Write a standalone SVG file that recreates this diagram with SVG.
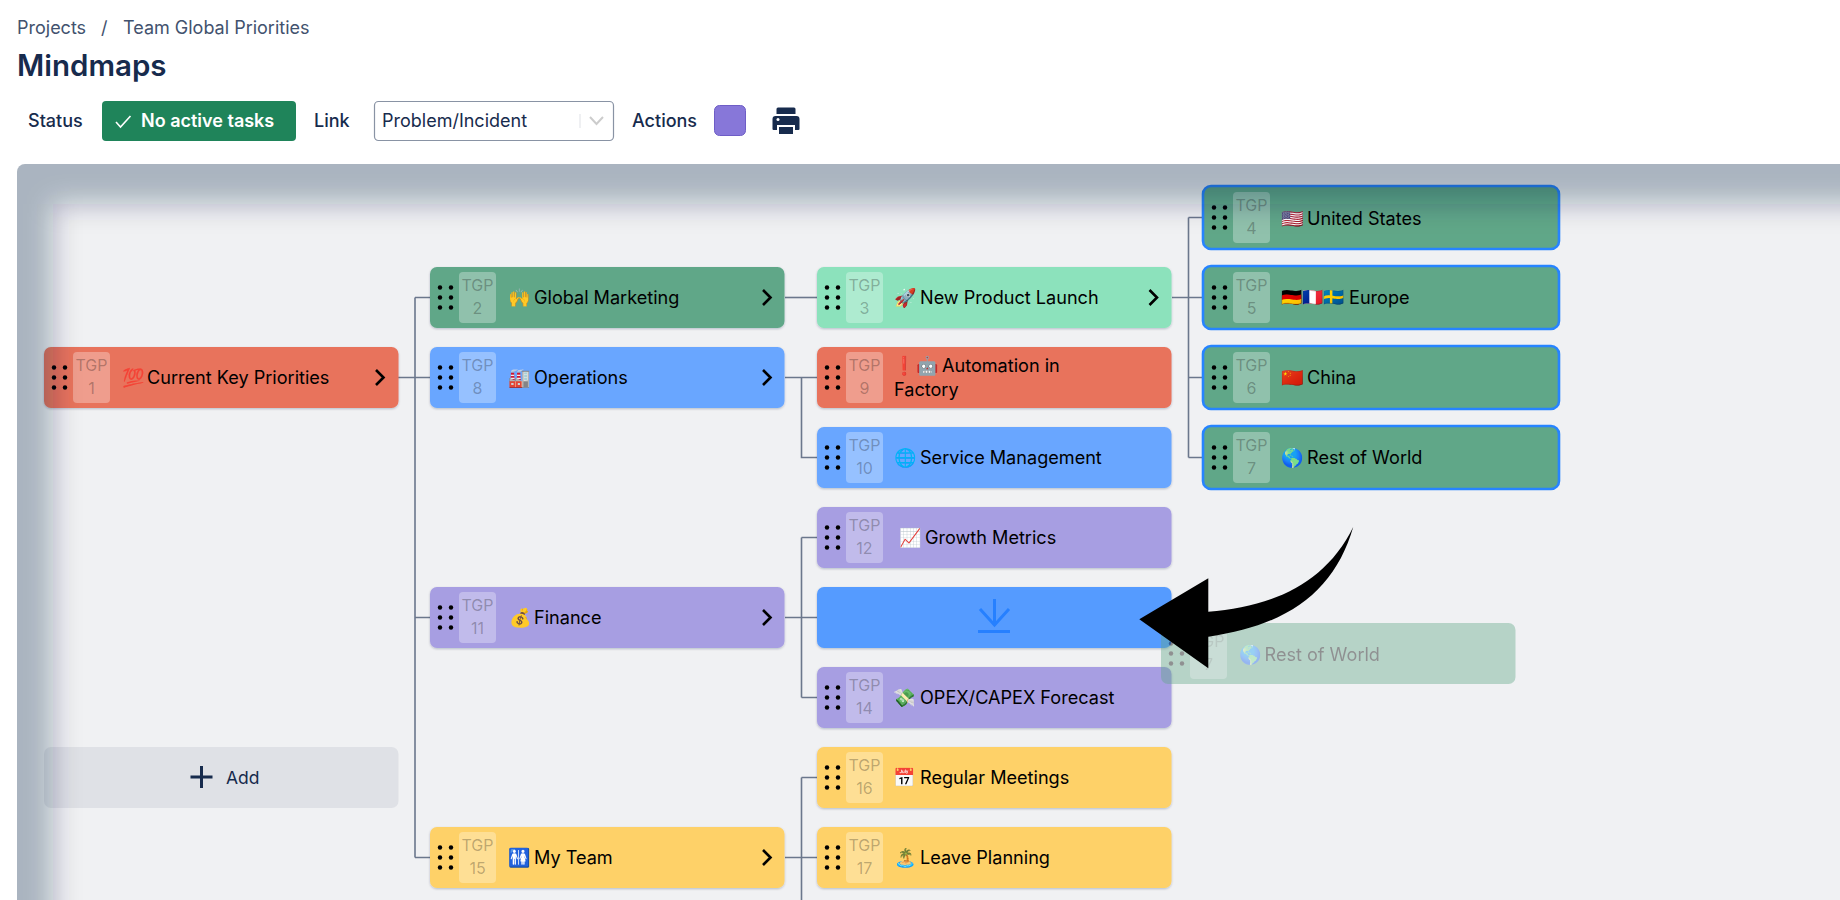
<svg xmlns="http://www.w3.org/2000/svg" xmlns:xlink="http://www.w3.org/1999/xlink" width="1840" height="900" viewBox="0 0 1840 900">
<style>
text{font-family:Inter,"Noto Sans","Noto Color Emoji",sans-serif}
.crumb{font-size:18px;fill:#42526e}
.tool{font-size:18px;font-weight:500;fill:#172b4d}
.lbl{font-size:18.100px;fill:#000;dominant-baseline:central}
.tgp{font-size:16px;fill:#000;fill-opacity:.27;text-anchor:middle;dominant-baseline:central}
.badge{fill:#fff;fill-opacity:.3}
.chev{fill:none;stroke:#000;stroke-width:2.6}
.n{filter:url(#sh)}
.red{fill:#e8735c}.grn{fill:#60a788}.lgr{fill:#8ce2bc}.blu{fill:#69a6ff}.pur{fill:#a79ee2}.yel{fill:#fed168}
.sel{fill:#60a788;stroke:#2684ff;stroke-width:2.6}
#connectors path{fill:none;stroke:#6b778c;stroke-width:1.600}
</style>
<defs>
<filter id="sh" x="-2%" y="-5%" width="104%" height="115%"><feDropShadow dx="0" dy="1" stdDeviation="1" flood-color="#091e42" flood-opacity=".25"/></filter>
<filter id="blur" x="-5%" y="-20%" width="110%" height="140%"><feGaussianBlur stdDeviation="14"/></filter>
<clipPath id="canvasClip"><path d="M25 164H1840V900H17V172a8 8 0 0 1 8-8z"/></clipPath>
<g id="grip"><circle cx="0" cy="-10" r="2.2"/><circle cx="11" cy="-10" r="2.2"/><circle cx="0" cy="0" r="2.2"/><circle cx="11" cy="0" r="2.2"/><circle cx="0" cy="10" r="2.2"/><circle cx="11" cy="10" r="2.2"/></g>
<rect id="nodeRect" width="354.5" height="61" rx="7"/>
<rect id="bdg" width="37" height="51" rx="4"/>
<path id="chevron" d="M-4-7.5 3.5 0-4 7.5"/>
</defs>

<rect id="canvas" x="17" y="164" width="1823" height="736" fill="#f0f1f3" clip-path="url(#canvasClip)"/>

<g id="header">
<text class="crumb" x="17" y="33.500">Projects</text>
<text class="crumb" x="101" y="33.500">/</text>
<text class="crumb" x="123" y="33.500">Team Global Priorities</text>
<text x="17" y="76" font-size="29.500" font-weight="600" fill="#172b4d">Mindmaps</text>
<text class="tool" x="28" y="127">Status</text>
<g id="status"><rect x="102" y="101" width="194" height="40" rx="4" fill="#1f845a"/>
<path d="M116 122l4.5 5 10-11" fill="none" stroke="#fff" stroke-width="1.6"/>
<text x="141" y="127" font-size="18" font-weight="600" fill="#fff">No active tasks</text></g>
<text class="tool" x="314" y="127">Link</text>
<g id="select"><rect x="374.5" y="101.5" width="239" height="39" rx="4" fill="#fff" stroke="#8993a4" stroke-width="1.2"/>
<text x="382" y="127" font-size="18" fill="#172b4d">Problem/Incident</text>
<path d="M580 114v14" stroke="#dfe1e6" stroke-width="1"/>
<path d="M590 117l6.500 7 6.500-7" fill="none" stroke="#ccc" stroke-width="2"/></g>
<text class="tool" x="632" y="127">Actions</text>
<rect id="swatch" x="714.500" y="105.500" width="31" height="30" rx="5" fill="#8777d9" stroke="#6e5dc6"/>
<path id="printer" fill="#172b4d" d="M778 107.500h16a1.500 1.500 0 0 1 1.500 1.500v5h-19v-5a1.500 1.500 0 0 1 1.500-1.500zM775.500 116h21a3 3 0 0 1 3 3v10a1 1 0 0 1-1 1h-3.500v-5h-18v5h-3.500a1 1 0 0 1-1-1v-10a3 3 0 0 1 3-3zM779 127h14v7h-14z"/>
<circle cx="778" cy="119.500" r="1.500" fill="#fff"/>
</g>

<g id="connectors">
<path d="M398 377.500H430M415 297.500V857.500M415 297.500H430M415 617.500H430M415 857.500H430"/>
<path d="M785 297.500H817"/>
<path d="M785 377.500H817M801.500 377.500V457.500H817"/>
<path d="M785 617.500H817M801.500 537.500V697.500M801.500 537.500H817M801.500 697.500H817"/>
<path d="M785 857.500H817M801.500 777.500V900M801.500 777.500H817"/>
<path d="M1172 297.500H1203M1188.500 217.500V457.500M1188.500 217.500H1203M1188.500 377.500H1203M1188.500 457.500H1203"/>
</g>

<g id="node-1" transform="translate(44 347)"><use xlink:href="#nodeRect" class="n red"/><use xlink:href="#grip" x="10" y="30.500"/><use xlink:href="#bdg" x="29" y="5" class="badge"/><text class="tgp" x="47.500" y="18">TGP</text><text class="tgp" x="47.500" y="41">1</text><text class="lbl" y="29.500"><tspan x="78">💯</tspan><tspan x="103">Current Key Priorities</tspan></text><use xlink:href="#chevron" x="336" y="30.500" class="chev"/></g>

<g id="node-2" transform="translate(430 267)"><use xlink:href="#nodeRect" class="n grn"/><use xlink:href="#grip" x="10" y="30.500"/><use xlink:href="#bdg" x="29" y="5" class="badge"/><text class="tgp" x="47.500" y="18">TGP</text><text class="tgp" x="47.500" y="41">2</text><text class="lbl" y="29.500"><tspan x="78">🙌</tspan><tspan x="104">Global Marketing</tspan></text><use xlink:href="#chevron" x="337" y="30.500" class="chev"/></g>

<g id="node-8" transform="translate(430 347)"><use xlink:href="#nodeRect" class="n blu"/><use xlink:href="#grip" x="10" y="30.500"/><use xlink:href="#bdg" x="29" y="5" class="badge"/><text class="tgp" x="47.500" y="18">TGP</text><text class="tgp" x="47.500" y="41">8</text><text class="lbl" y="29.500"><tspan x="78">🏭</tspan><tspan x="104">Operations</tspan></text><use xlink:href="#chevron" x="337" y="30.500" class="chev"/></g>

<g id="node-11" transform="translate(430 587)"><use xlink:href="#nodeRect" class="n pur"/><use xlink:href="#grip" x="10" y="30.500"/><use xlink:href="#bdg" x="29" y="5" class="badge"/><text class="tgp" x="47.500" y="18">TGP</text><text class="tgp" x="47.500" y="41">11</text><text class="lbl" y="29.500"><tspan x="79">💰</tspan><tspan x="104">Finance</tspan></text><use xlink:href="#chevron" x="337" y="30.500" class="chev"/></g>

<g id="node-15" transform="translate(430 827)"><use xlink:href="#nodeRect" class="n yel"/><use xlink:href="#grip" x="10" y="30.500"/><use xlink:href="#bdg" x="29" y="5" class="badge"/><text class="tgp" x="47.500" y="18">TGP</text><text class="tgp" x="47.500" y="41">15</text><text class="lbl" y="29.500"><tspan x="78">🚻</tspan><tspan x="104">My Team</tspan></text><use xlink:href="#chevron" x="337" y="30.500" class="chev"/></g>

<g id="node-3" transform="translate(817 267)"><use xlink:href="#nodeRect" class="n lgr"/><use xlink:href="#grip" x="10" y="30.500"/><use xlink:href="#bdg" x="29" y="5" class="badge"/><text class="tgp" x="47.500" y="18">TGP</text><text class="tgp" x="47.500" y="41">3</text><text class="lbl" y="29.500"><tspan x="77">🚀</tspan><tspan x="103">New Product Launch</tspan></text><use xlink:href="#chevron" x="336.500" y="30.500" class="chev"/></g>

<g id="node-9" transform="translate(817 347)"><use xlink:href="#nodeRect" class="n red"/><use xlink:href="#grip" x="10" y="30.500"/><use xlink:href="#bdg" x="29" y="5" class="badge"/><text class="tgp" x="47.500" y="18">TGP</text><text class="tgp" x="47.500" y="41">9</text><text class="lbl" y="18"><tspan x="76">❗</tspan><tspan x="99">🤖</tspan><tspan x="125">Automation in</tspan></text><text class="lbl" x="77" y="42">Factory</text></g>

<g id="node-10" transform="translate(817 427)"><use xlink:href="#nodeRect" class="n blu"/><use xlink:href="#grip" x="10" y="30.500"/><use xlink:href="#bdg" x="29" y="5" class="badge"/><text class="tgp" x="47.500" y="18">TGP</text><text class="tgp" x="47.500" y="41">10</text><text class="lbl" y="29.500"><tspan x="77">🌐</tspan><tspan x="103">Service Management</tspan></text></g>

<g id="node-12" transform="translate(817 507)"><use xlink:href="#nodeRect" class="n pur"/><use xlink:href="#grip" x="10" y="30.500"/><use xlink:href="#bdg" x="29" y="5" class="badge"/><text class="tgp" x="47.500" y="18">TGP</text><text class="tgp" x="47.500" y="41">12</text><text class="lbl" y="29.500"><tspan x="82">📈</tspan><tspan x="108">Growth Metrics</tspan></text></g>

<g id="dropzone" transform="translate(817 587)"><use xlink:href="#nodeRect" class="n" fill="#559bff"/><path d="M177.500 12V38M163 22L177.500 38L192 22M161 44.500H193" fill="none" stroke="#2680ff" stroke-width="3"/></g>

<g id="node-14" transform="translate(817 667)"><use xlink:href="#nodeRect" class="n pur"/><use xlink:href="#grip" x="10" y="30.500"/><use xlink:href="#bdg" x="29" y="5" class="badge"/><text class="tgp" x="47.500" y="18">TGP</text><text class="tgp" x="47.500" y="41">14</text><text class="lbl" y="29.500"><tspan x="76">💸</tspan><tspan x="103">OPEX/CAPEX Forecast</tspan></text></g>

<g id="node-16" transform="translate(817 747)"><use xlink:href="#nodeRect" class="n yel"/><use xlink:href="#grip" x="10" y="30.500"/><use xlink:href="#bdg" x="29" y="5" class="badge"/><text class="tgp" x="47.500" y="18">TGP</text><text class="tgp" x="47.500" y="41">16</text><text class="lbl" y="29.500"><tspan x="76">📅</tspan><tspan x="103">Regular Meetings</tspan></text></g>

<g id="node-17" transform="translate(817 827)"><use xlink:href="#nodeRect" class="n yel"/><use xlink:href="#grip" x="10" y="30.500"/><use xlink:href="#bdg" x="29" y="5" class="badge"/><text class="tgp" x="47.500" y="18">TGP</text><text class="tgp" x="47.500" y="41">17</text><text class="lbl" y="29.500"><tspan x="77">🏝</tspan><tspan x="103">Leave Planning</tspan></text></g>

<g id="node-4" transform="translate(1204 187)"><rect x="-1" y="-1" width="356" height="63" rx="8" class="sel"/><use xlink:href="#grip" x="10" y="30.500"/><use xlink:href="#bdg" x="29" y="5" class="badge"/><text class="tgp" x="47.500" y="18">TGP</text><text class="tgp" x="47.500" y="41">4</text><text class="lbl" y="30.500"><tspan x="77">🇺🇸</tspan><tspan x="103">United States</tspan></text></g>

<g id="node-5" transform="translate(1204 267)"><rect x="-1" y="-1" width="356" height="63" rx="8" class="sel"/><use xlink:href="#grip" x="10" y="30.500"/><use xlink:href="#bdg" x="29" y="5" class="badge"/><text class="tgp" x="47.500" y="18">TGP</text><text class="tgp" x="47.500" y="41">5</text><text class="lbl" y="29.500"><tspan x="77" font-size="17">🇩🇪🇫🇷🇸🇪</tspan><tspan x="145">Europe</tspan></text></g>

<g id="node-6" transform="translate(1204 347)"><rect x="-1" y="-1" width="356" height="63" rx="8" class="sel"/><use xlink:href="#grip" x="10" y="30.500"/><use xlink:href="#bdg" x="29" y="5" class="badge"/><text class="tgp" x="47.500" y="18">TGP</text><text class="tgp" x="47.500" y="41">6</text><text class="lbl" y="29.500"><tspan x="77">🇨🇳</tspan><tspan x="103">China</tspan></text></g>

<g id="node-7" transform="translate(1204 427)"><rect x="-1" y="-1" width="356" height="63" rx="8" class="sel"/><use xlink:href="#grip" x="10" y="30.500"/><use xlink:href="#bdg" x="29" y="5" class="badge"/><text class="tgp" x="47.500" y="18">TGP</text><text class="tgp" x="47.500" y="41">7</text><text class="lbl" y="29.500"><tspan x="77">🌎</tspan><tspan x="103">Rest of World</tspan></text></g>

<g id="node-add" transform="translate(44 747)"><use xlink:href="#nodeRect" fill="#dfe1e6"/><path d="M146.500 30H168.500M157.500 19V41" fill="none" stroke="#172b4d" stroke-width="3"/><text x="182" y="37" font-size="17.500" fill="#172b4d">Add</text></g>

<g id="inset-shadow" clip-path="url(#canvasClip)"><path filter="url(#blur)" fill="#091e42" fill-opacity=".29" fill-rule="evenodd" d="M-60 90H1900V960H-60zM53 204V960H1900V204z"/></g>

<g id="node-ghost" transform="translate(1161 623)" opacity=".4"><use xlink:href="#nodeRect" class="grn"/><use xlink:href="#grip" x="10" y="30.500"/><use xlink:href="#bdg" x="29" y="5" class="badge"/><text class="tgp" x="47.500" y="18">TGP</text><text class="tgp" x="47.500" y="41">7</text><text class="lbl" y="30.500"><tspan x="78">🌎</tspan><tspan x="103.500">Rest of World</tspan></text></g>

<path id="big-arrow" fill="#000" d="M1139.300 619.300L1208.300 578.300V611.700C1270 607 1325 585 1353.300 526.700C1335 590 1290 625 1208.300 636.700V668.300Z"/>
</svg>
